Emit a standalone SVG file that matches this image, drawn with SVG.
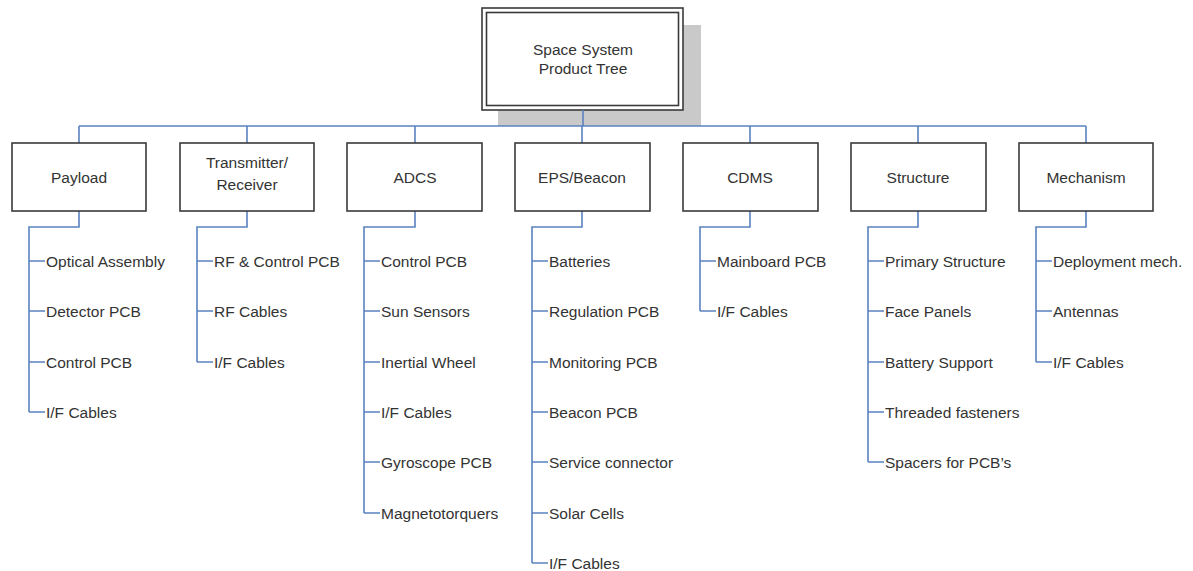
<svg xmlns="http://www.w3.org/2000/svg" width="1193" height="571" viewBox="0 0 1193 571">
  <style>
    .box { fill: #ffffff; stroke: #3a3a3a; stroke-width: 1.6; }
    .lbl { font-family: "Liberation Sans", Arial, sans-serif; font-size: 15.5px; fill: #333333; }
    .c { text-anchor: middle; dominant-baseline: central; }
    .item { dominant-baseline: central; }
    .wire { fill: none; stroke: #5a82c0; stroke-width: 1.6; }
  </style>
  <rect width="1193" height="571" fill="#ffffff"/>

  <!-- root node -->
  <g id="root">
    <rect x="498" y="25" width="203" height="101" fill="#c9c9c9"/>
    <rect class="box" x="482" y="8" width="201" height="102" stroke-width="2"/>
    <rect x="486.5" y="12.5" width="192" height="93" fill="none" stroke="#3a3a3a" stroke-width="1.6"/>
    <text class="lbl c" x="583" y="49">Space System</text>
    <text class="lbl c" x="583" y="68">Product Tree</text>
  </g>

  <!-- connectors -->
  <g id="connectors" class="wire">
    <path d="M583 110V126M79 126H1086"/>
    <path d="M79 126V143M247 126V143M415 126V143M582 126V143M750 126V143M918 126V143M1086 126V143"/>
    <!-- Payload -->
    <path d="M79 211V227H29V412M29 261H45M29 311H45M29 362H45M29 412H45"/>
    <!-- Transmitter/Receiver -->
    <path d="M247 211V227H197V362M197 261H213M197 311H213M197 362H213"/>
    <!-- ADCS -->
    <path d="M415 211V227H364V513M364 261H380M364 311H380M364 362H380M364 412H380M364 462H380M364 513H380"/>
    <!-- EPS/Beacon -->
    <path d="M582 211V227H532V563M532 261H548M532 311H548M532 362H548M532 412H548M532 462H548M532 513H548M532 563H548"/>
    <!-- CDMS -->
    <path d="M750 211V227H700V311M700 261H716M700 311H716"/>
    <!-- Structure -->
    <path d="M918 211V227H868V462M868 261H884M868 311H884M868 362H884M868 412H884M868 462H884"/>
    <!-- Mechanism -->
    <path d="M1086 211V227H1036V362M1036 261H1052M1036 311H1052M1036 362H1052"/>
  </g>

  <g id="payload">
    <rect class="box" x="12" y="143" width="134" height="68"/>
    <text class="lbl c" x="79" y="177">Payload</text>
    <text class="lbl item" x="46" y="261">Optical Assembly</text>
    <text class="lbl item" x="46" y="311">Detector PCB</text>
    <text class="lbl item" x="46" y="362">Control PCB</text>
    <text class="lbl item" x="46" y="412">I/F Cables</text>
  </g>

  <g id="transmitter-receiver">
    <rect class="box" x="180" y="143" width="134" height="68"/>
    <text class="lbl c" x="247" y="162">Transmitter/</text>
    <text class="lbl c" x="247" y="184">Receiver</text>
    <text class="lbl item" x="214" y="261">RF &amp; Control PCB</text>
    <text class="lbl item" x="214" y="311">RF Cables</text>
    <text class="lbl item" x="214" y="362">I/F Cables</text>
  </g>

  <g id="adcs">
    <rect class="box" x="347" y="143" width="135" height="68"/>
    <text class="lbl c" x="415" y="177">ADCS</text>
    <text class="lbl item" x="381" y="261">Control PCB</text>
    <text class="lbl item" x="381" y="311">Sun Sensors</text>
    <text class="lbl item" x="381" y="362">Inertial Wheel</text>
    <text class="lbl item" x="381" y="412">I/F Cables</text>
    <text class="lbl item" x="381" y="462">Gyroscope PCB</text>
    <text class="lbl item" x="381" y="513">Magnetotorquers</text>
  </g>

  <g id="eps-beacon">
    <rect class="box" x="515" y="143" width="135" height="68"/>
    <text class="lbl c" x="582" y="177">EPS/Beacon</text>
    <text class="lbl item" x="549" y="261">Batteries</text>
    <text class="lbl item" x="549" y="311">Regulation PCB</text>
    <text class="lbl item" x="549" y="362">Monitoring PCB</text>
    <text class="lbl item" x="549" y="412">Beacon PCB</text>
    <text class="lbl item" x="549" y="462">Service connector</text>
    <text class="lbl item" x="549" y="513">Solar Cells</text>
    <text class="lbl item" x="549" y="563">I/F Cables</text>
  </g>

  <g id="cdms">
    <rect class="box" x="683" y="143" width="135" height="68"/>
    <text class="lbl c" x="750" y="177">CDMS</text>
    <text class="lbl item" x="717" y="261">Mainboard PCB</text>
    <text class="lbl item" x="717" y="311">I/F Cables</text>
  </g>

  <g id="structure">
    <rect class="box" x="851" y="143" width="135" height="68"/>
    <text class="lbl c" x="918" y="177">Structure</text>
    <text class="lbl item" x="885" y="261">Primary Structure</text>
    <text class="lbl item" x="885" y="311">Face Panels</text>
    <text class="lbl item" x="885" y="362">Battery Support</text>
    <text class="lbl item" x="885" y="412">Threaded fasteners</text>
    <text class="lbl item" x="885" y="462">Spacers for PCB’s</text>
  </g>

  <g id="mechanism">
    <rect class="box" x="1019" y="143" width="134" height="68"/>
    <text class="lbl c" x="1086" y="177">Mechanism</text>
    <text class="lbl item" x="1053" y="261">Deployment mech.</text>
    <text class="lbl item" x="1053" y="311">Antennas</text>
    <text class="lbl item" x="1053" y="362">I/F Cables</text>
  </g>
</svg>
